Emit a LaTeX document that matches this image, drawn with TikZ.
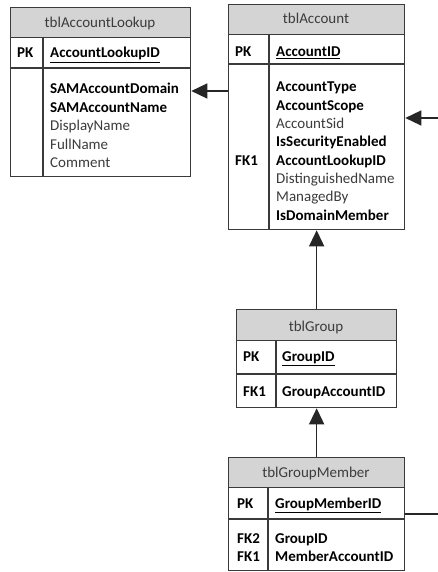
\documentclass[tikz,border=0pt]{standalone}
\usepackage{fontspec}
\setmainfont{Carlito}
\usetikzlibrary{arrows.meta}
\definecolor{hdr}{HTML}{D4D4D4}
\definecolor{edge}{HTML}{3A3A3A}
\definecolor{txt}{HTML}{3C3C3C}
\tikzset{
  x=1pt, y=-1pt,
  tbox/.style={draw=edge, line width=1.3pt, rectangle, inner sep=0pt, anchor=north west},
  thead/.style={fill=hdr, draw=edge, line width=1.3pt, rectangle, inner sep=0pt, anchor=north west},
  sep/.style={draw=edge, line width=1.3pt},
  ttl/.style={font=\fontsize{15}{18}\selectfont, text=txt, anchor=base, inner sep=0pt},
  fld/.style={font=\fontsize{15}{18}\selectfont, text=txt, anchor=base west, inner sep=0pt},
  conn/.style={draw=black!85, line width=1.4pt, -{Triangle[length=16pt,width=15pt]}},
  plain/.style={draw=black!85, line width=1.4pt},
}
\begin{document}
\begin{tikzpicture}
\useasboundingbox (0,0) rectangle (438,572);
\clip (0,0) rectangle (438,572);
\fill[white] (0,0) rectangle (438,572);

% ---------- tblAccountLookup ----------
\node[thead, minimum width=180pt, minimum height=30pt] (lkh) at (10,7) {};
\node[tbox, minimum width=180pt, minimum height=169pt] (lk) at (10,7) {};
\draw[sep] (10,68) -- (190,68);
\draw[sep] (43,37) -- (43,176);
\node[ttl] (lkt) at (100,28) {tblAccountLookup};
\node[fld] (lkpk) at (17,58) {\textbf{\textcolor{black}{PK}}};
\node[fld] (lkid) at (50,58) {\textbf{\textcolor{black}{\underline{AccountLookupID}}}};
\foreach \t [count=\i] in {{\textbf{\textcolor{black}{SAMAccountDomain}}},{\textbf{\textcolor{black}{SAMAccountName}}},DisplayName,FullName,Comment}
  \node[fld] (lkf\i) at (50,{94+18.4*(\i-1)}) {\t};

% ---------- tblAccount ----------
\node[thead, minimum width=176pt, minimum height=30pt] (acch) at (228,4) {};
\node[tbox, minimum width=176pt, minimum height=225pt] (acc) at (228,4) {};
\draw[sep] (228,64) -- (404,64);
\draw[sep] (269,34) -- (269,229);
\node[ttl] (acct) at (316,24) {tblAccount};
\node[fld] (accpk) at (235,57) {\textbf{\textcolor{black}{PK}}};
\node[fld] (accid) at (276,57) {\textbf{\textcolor{black}{\underline{AccountID}}}};
\node[fld] (accfk) at (235,165.2) {\textbf{\textcolor{black}{FK1}}};
\foreach \t [count=\i] in {{\textbf{\textcolor{black}{AccountType}}},{\textbf{\textcolor{black}{AccountScope}}},AccountSid,{\textbf{\textcolor{black}{IsSecurityEnabled}}},{\textbf{\textcolor{black}{AccountLookupID}}},DistinguishedName,ManagedBy,{\textbf{\textcolor{black}{IsDomainMember}}}}
  \node[fld] (accf\i) at (276,{92+18.3*(\i-1)}) {\t};

% ---------- tblGroup ----------
\node[thead, minimum width=160pt, minimum height=31pt] (grph) at (236,309) {};
\node[tbox, minimum width=160pt, minimum height=98pt] (grp) at (236,309) {};
\draw[sep] (236,374) -- (396,374);
\draw[sep] (276,340) -- (276,407);
\node[ttl] (grpt) at (316,331) {tblGroup};
\node[fld] (grppk) at (243,361) {\textbf{\textcolor{black}{PK}}};
\node[fld] (grpid) at (282,361) {\textbf{\textcolor{black}{\underline{GroupID}}}};
\node[fld] (grpfk) at (243,396) {\textbf{\textcolor{black}{FK1}}};
\node[fld] (grpf1) at (282,396) {\textbf{\textcolor{black}{GroupAccountID}}};

% ---------- tblGroupMember ----------
\node[thead, minimum width=176pt, minimum height=30pt] (gmh) at (228,457) {};
\node[tbox, minimum width=176pt, minimum height=113pt] (gm) at (228,457) {};
\draw[sep] (228,519) -- (404,519);
\draw[sep] (268,487) -- (268,570);
\node[ttl] (gmt) at (316,477) {tblGroupMember};
\node[fld] (gmpk) at (237,508) {\textbf{\textcolor{black}{PK}}};
\node[fld] (gmid) at (275,508) {\textbf{\textcolor{black}{\underline{GroupMemberID}}}};
\node[fld] (gmfk2) at (237,543) {\textbf{\textcolor{black}{FK2}}};
\node[fld] (gmfk1) at (237,561.5) {\textbf{\textcolor{black}{FK1}}};
\node[fld] (gmf1) at (275,543) {\textbf{\textcolor{black}{GroupID}}};
\node[fld] (gmf2) at (275,561.5) {\textbf{\textcolor{black}{MemberAccountID}}};

% ---------- connectors ----------
\coordinate (ylk) at (0,91);
\coordinate (yacc) at (0,118);
\coordinate (ygm) at (0,514);
\coordinate (rim) at (452,0);
\draw[conn] (ylk -| acc.west) -- (ylk -| lk.east);
\draw[conn] (grp.north) -- (acc.south);
\draw[conn] (gm.north) -- (grp.south);
\draw[conn] (ygm -| gm.east) -- (ygm -| rim) -- (yacc -| rim) -- (yacc -| acc.east);
\end{tikzpicture}
\end{document}
